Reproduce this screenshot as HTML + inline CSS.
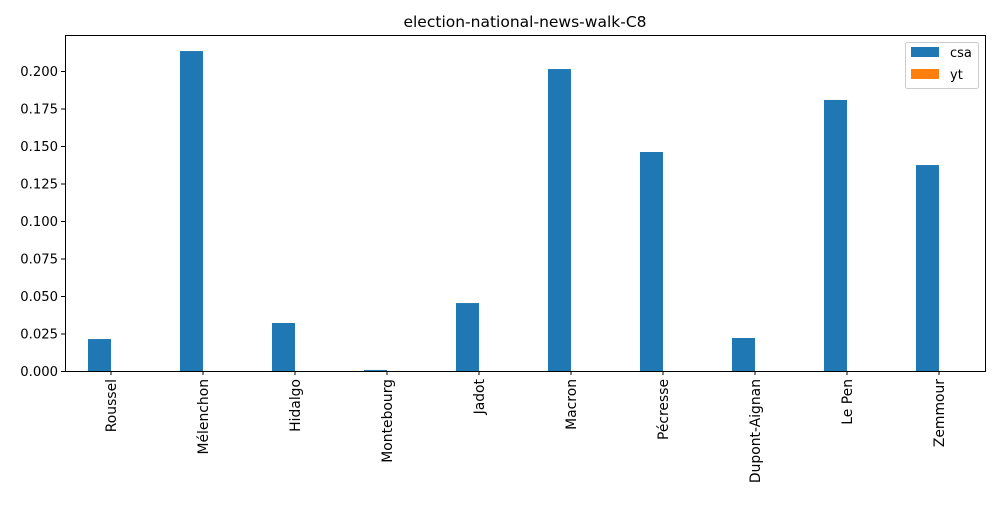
<!DOCTYPE html>
<html><head><meta charset="utf-8"><style>
body{margin:0;background:#fff;font-family:"Liberation Sans","DejaVu Sans",sans-serif}
svg text{font-family:"DejaVu Sans","Liberation Sans",sans-serif;fill:#000}
</style></head><body>
<svg id="chart" width="1000" height="500">
<text x="525" y="27" text-anchor="middle" font-size="15.5">election-national-news-walk-C8</text>
<g id="bars"></g>
<rect x="65.5" y="35.5" width="920" height="336" fill="none" stroke="#000" stroke-width="1"/>
<g id="yaxis"></g><g id="xaxis"></g>
<g>
<rect x="905.5" y="42.5" width="73" height="46" rx="2" fill="#fff" stroke="#ccc"/>
<rect x="911" y="47" width="28" height="10" fill="#1f77b4"/>
<text x="950" y="57" font-size="13">csa</text>
<rect x="911" y="69" width="28" height="10" fill="#ff7f0e"/>
<text x="950" y="79" font-size="13">yt</text>
</g>
</svg>
<script>
const categories=["Roussel","Mélenchon","Hidalgo","Montebourg","Jadot","Macron","Pécresse","Dupont-Aignan","Le Pen","Zemmour"];
const csa=[0.0213,0.2133,0.032,0.0007,0.0453,0.2013,0.146,0.022,0.1807,0.1373];
const yt=[0,0,0,0,0,0,0,0,0,0];
const yTicks=[0,0.025,0.05,0.075,0.1,0.125,0.15,0.175,0.2];
const NS="http://www.w3.org/2000/svg";
const L=65,R=985,T=35,B=371,yMax=0.224;
const y=v=>B-(v/yMax)*(B-T);
const step=(R-L)/categories.length;
const xc=i=>L+step*(i+0.5);
const bw=step/4;
function mk(t,a,p){const e=document.createElementNS(NS,t);for(const k in a)e.setAttribute(k,a[k]);p.appendChild(e);return e;}
const gb=document.getElementById('bars'),gy=document.getElementById('yaxis'),gx=document.getElementById('xaxis');
categories.forEach((c,i)=>{
 const r1=mk('rect',{x:xc(i)-bw,y:y(csa[i]),width:bw,height:B-y(csa[i]),fill:'#1f77b4'},gb);
 
 
 const r2=mk('rect',{x:xc(i),y:y(yt[i]),width:bw,height:B-y(yt[i]),fill:'#ff7f0e'},gb);
 
 
 mk('line',{x1:xc(i),x2:xc(i),y1:B,y2:B+4,stroke:'#000'},gx);
 const t=mk('text',{x:0,y:0,'font-size':13.9,'text-anchor':'end',transform:`translate(${xc(i)+5},${B+8}) rotate(-90)`},gx);
 t.textContent=c;
 
 
});
yTicks.forEach(v=>{
 mk('line',{x1:L-4,x2:L,y1:y(v)+0.5,y2:y(v)+0.5,stroke:'#000'},gy);
 const t=mk('text',{x:L-7,y:y(v)+5,'font-size':13.2,'text-anchor':'end'},gy);
 t.textContent=v.toFixed(3);
 
 
});
</script>
</body></html>
